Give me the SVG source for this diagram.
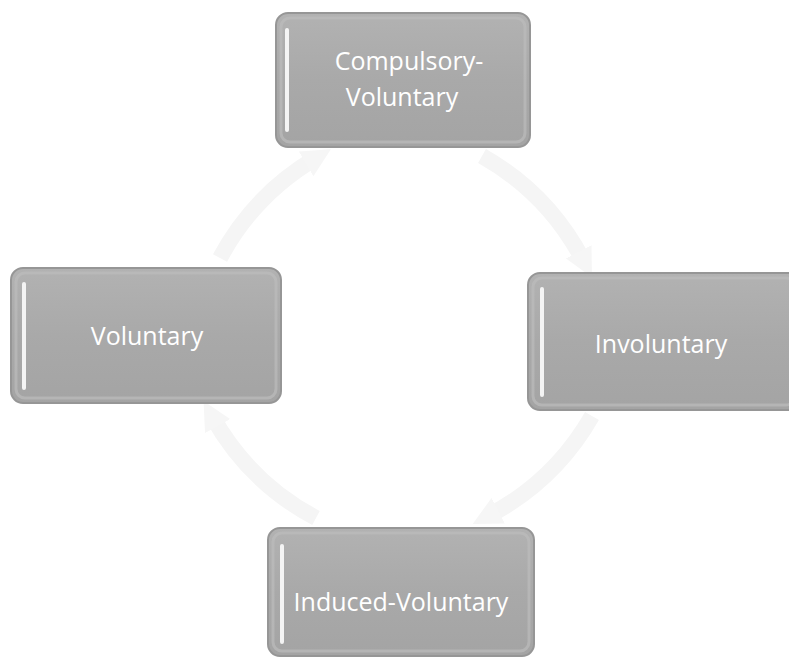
<svg xmlns="http://www.w3.org/2000/svg" width="789" height="660" viewBox="0 0 789 660">
  <defs>
    <linearGradient id="boxFill" x1="0" y1="0" x2="0" y2="1">
      <stop offset="0" stop-color="#b2b2b2"/>
      <stop offset="0.5" stop-color="#a9a9a9"/>
      <stop offset="1" stop-color="#a4a4a4"/>
    </linearGradient>
    <marker id="arr" viewBox="0 0 10 10" refX="4" refY="5" markerWidth="1.8" markerHeight="1.8" orient="auto">
      <path d="M0,0 L10,5 L0,10 z" fill="#f6f6f6"/>
    </marker>
    <style>
      .box { fill: url(#boxFill); stroke: #969696; stroke-width: 2; }
      .inner { fill: none; stroke: #bcbcbc; stroke-width: 3; opacity: 0.7; }
      .hl { fill: #f4f4f4; }
      .lbl { font-family: "Open Sans", "Liberation Sans", sans-serif; font-size: 25px; fill: #ffffff; text-anchor: middle; }
      .arc { fill: none; stroke: #f5f5f5; stroke-width: 16; marker-end: url(#arr); }
    </style>
  </defs>
  <rect width="789" height="660" fill="#ffffff"/>

  <g id="connectors">
    <path class="arc" d="M 482 156 A 255 258 0 0 1 584 262"/>
    <path class="arc" d="M 592 416 A 255 258 0 0 1 488 516"/>
    <path class="arc" d="M 316 518 A 255 258 0 0 1 212 416"/>
    <path class="arc" d="M 220 258 A 255 258 0 0 1 316 158"/>
  </g>

  <g id="node-top">
    <rect class="box" x="276" y="13" width="254" height="134" rx="12"/>
    <rect class="inner" x="281" y="18" width="244" height="124" rx="9"/>
    <rect class="hl" x="285" y="28" width="4" height="104" rx="2"/>
    <text class="lbl" x="409" y="70">Compulsory-</text>
    <text class="lbl" x="402" y="106">Voluntary</text>
  </g>

  <g id="node-left">
    <rect class="box" x="11" y="268" width="270" height="135" rx="12"/>
    <rect class="inner" x="16" y="273" width="260" height="125" rx="9"/>
    <rect class="hl" x="22" y="282" width="4" height="108" rx="2"/>
    <text class="lbl" x="147" y="345">Voluntary</text>
  </g>

  <g id="node-right">
    <rect class="box" x="528" y="273" width="272" height="137" rx="12"/>
    <rect class="inner" x="533" y="278" width="262" height="127" rx="9"/>
    <rect class="hl" x="540" y="287" width="4" height="110" rx="2"/>
    <text class="lbl" x="661" y="353">Involuntary</text>
  </g>

  <g id="node-bottom">
    <rect class="box" x="268" y="528" width="266" height="128" rx="12"/>
    <rect class="inner" x="273" y="533" width="256" height="118" rx="9"/>
    <rect class="hl" x="280" y="544" width="4" height="100" rx="2"/>
    <text class="lbl" x="401" y="611">Induced-Voluntary</text>
  </g>
</svg>
